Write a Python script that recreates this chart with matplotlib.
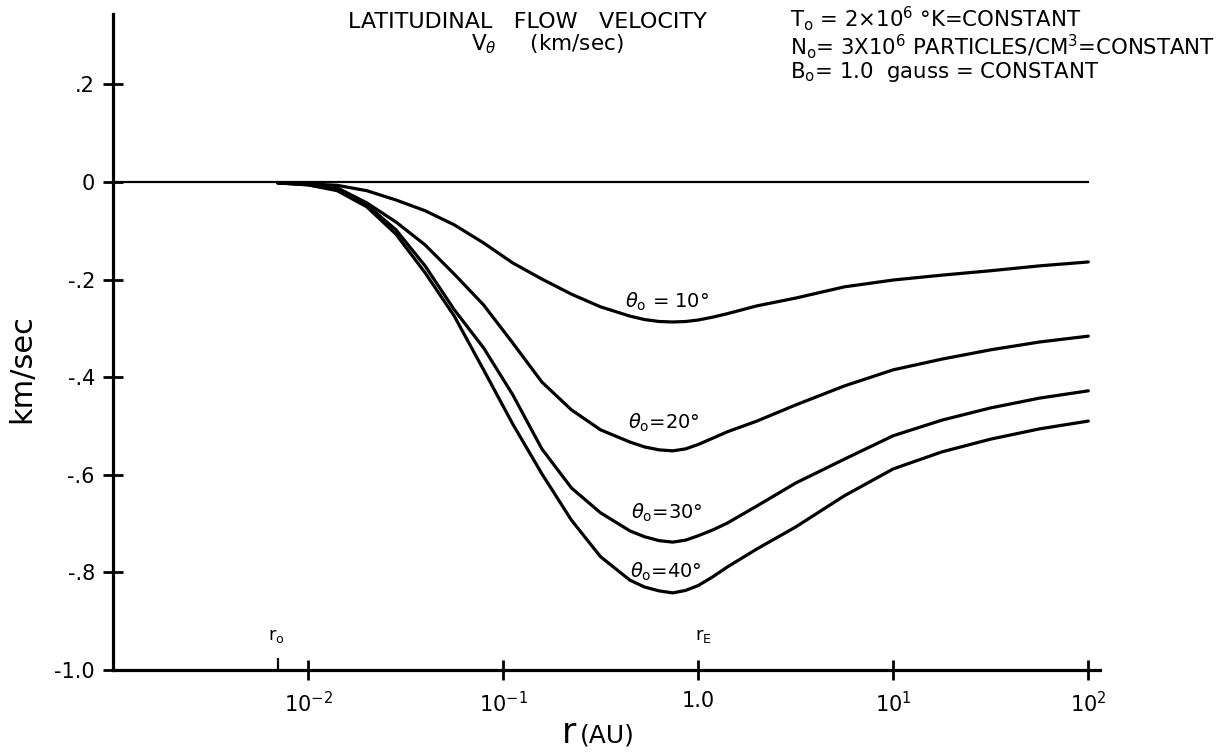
import matplotlib
matplotlib.use("Agg")
import matplotlib.pyplot as plt
from matplotlib.ticker import NullLocator

# ---------------- data ----------------
r_au = [0.007, 0.01, 0.0141, 0.02, 0.0282, 0.0398, 0.0562, 0.0794, 0.112,
        0.158, 0.224, 0.316, 0.447, 0.531, 0.631, 0.741, 0.861, 1.0, 1.189,
        1.41, 2.0, 3.16, 5.62, 10.0, 17.8, 31.6, 56.2, 100.0]

v_theta10 = [-0.002, -0.004, -0.007, -0.018, -0.037, -0.059, -0.088, -0.125,
             -0.166, -0.199, -0.230, -0.256, -0.275, -0.282, -0.286, -0.287,
             -0.286, -0.283, -0.277, -0.270, -0.254, -0.238, -0.215, -0.201,
             -0.191, -0.182, -0.172, -0.164]
v_theta20 = [-0.002, -0.005, -0.012, -0.043, -0.082, -0.129, -0.189, -0.252,
             -0.330, -0.410, -0.467, -0.508, -0.533, -0.543, -0.549, -0.551,
             -0.547, -0.538, -0.525, -0.512, -0.490, -0.457, -0.418, -0.385,
             -0.363, -0.344, -0.328, -0.316]
v_theta30 = [-0.002, -0.006, -0.016, -0.047, -0.098, -0.172, -0.262, -0.340,
             -0.436, -0.547, -0.627, -0.678, -0.715, -0.727, -0.735, -0.738,
             -0.734, -0.725, -0.713, -0.699, -0.664, -0.617, -0.568, -0.520,
             -0.488, -0.463, -0.443, -0.428]
v_theta40 = [-0.002, -0.006, -0.018, -0.051, -0.107, -0.186, -0.275, -0.385,
             -0.496, -0.598, -0.693, -0.768, -0.816, -0.830, -0.838, -0.842,
             -0.837, -0.827, -0.809, -0.789, -0.752, -0.707, -0.643, -0.588,
             -0.553, -0.527, -0.506, -0.490]

curve_labels = [r"$\theta_\mathrm{o}$ = 10°", r"$\theta_\mathrm{o}$=20°",
                r"$\theta_\mathrm{o}$=30°", r"$\theta_\mathrm{o}$=40°"]
# label centre (r, v) for each curve label
label_r = [0.69, 0.67, 0.69, 0.685]
label_v = [-0.246, -0.494, -0.678, -0.799]

zero_line_r = [1e-3, 1e2]
zero_line_v = [0.0, 0.0]

x_ticks = [1e-2, 1e-1, 1.0, 1e1, 1e2]
x_tick_labels = [r"10$^{-2}$", r"10$^{-1}$", "1.0", r"10$^{1}$", r"10$^{2}$"]
y_ticks = [0.2, 0.0, -0.2, -0.4, -0.6, -0.8, -1.0]
y_tick_labels = [".2", "0", "-.2", "-.4", "-.6", "-.8", "-1.0"]

r_0 = 0.007
r_E = 1.0

# ---------------- figure ----------------
W, H = 1225, 755
fig = plt.figure(figsize=(W / 100, H / 100), dpi=100)
ax = fig.add_axes([113 / W, 85 / H, 987 / W, 656 / H])
ax.set_xscale("log")
ax.set_xlim(1e-3, 10 ** 2.06)
ax.set_ylim(-1.0, 0.344)

for s in ["top", "right"]:
    ax.spines[s].set_visible(False)
for s in ["left", "bottom"]:
    ax.spines[s].set_linewidth(2.3)

ax.plot(zero_line_r, zero_line_v, color="black", lw=1.6)
for v in (v_theta10, v_theta20, v_theta30, v_theta40):
    ax.plot(r_au, v, color="black", lw=2.3, solid_capstyle="round",
            solid_joinstyle="round")

for txt, lr, lv in zip(curve_labels, label_r, label_v):
    ax.text(lr, lv, txt, fontsize=14, ha="center", va="center")

ax.set_xticks(x_ticks)
ax.set_xticklabels(x_tick_labels)
ax.xaxis.set_minor_locator(NullLocator())
ax.set_xticks([r_0], minor=True)
ax.set_yticks(y_ticks)
ax.set_yticklabels(y_tick_labels)

ax.tick_params(axis="both", which="major", direction="inout", length=14,
               width=2, labelsize=15)
ax.tick_params(axis="x", which="major", pad=8)
ax.tick_params(axis="y", which="major", pad=6)
ax.tick_params(axis="x", which="minor", direction="in", length=9, width=1.6)

ax.annotate(r"r$_\mathrm{o}$", xy=(r_0, -1.0), xytext=(-1, 18),
            textcoords="offset points", ha="center", va="bottom", fontsize=13)
ax.annotate(r"r$_\mathrm{E}$", xy=(r_E, -1.0), xytext=(4, 18),
            textcoords="offset points", ha="center", va="bottom", fontsize=13)

ax.set_ylabel("km/sec", fontsize=22)
ax.yaxis.set_label_coords(-0.078, 0.46)


def px(x, y):
    return x / W, 1 - y / H


# x-axis label: large "r" followed by "(AU)"
fig.text(*px(562, 743), "r", fontsize=25, ha="left", va="baseline")
fig.text(*px(580, 743), "(AU)", fontsize=18, ha="left", va="baseline")

fig.text(*px(527, 22), "LATITUDINAL   FLOW   VELOCITY", fontsize=16,
         ha="center", va="center")
fig.text(*px(547, 44), r"V$_\theta$     (km/sec)", fontsize=15.5,
         ha="center", va="center")
fig.text(*px(790, 19), r"T$_\mathrm{o}$ = 2×10$^6$ °K=CONSTANT",
         fontsize=15.3, ha="left", va="center")
fig.text(*px(790, 47), r"N$_\mathrm{o}$= 3X10$^6$ PARTICLES/CM$^3$=CONSTANT",
         fontsize=15.3, ha="left", va="center")
fig.text(*px(790, 72), r"B$_\mathrm{o}$= 1.0  gauss = CONSTANT",
         fontsize=15.3, ha="left", va="center")

fig.savefig("out.png", dpi=100)
